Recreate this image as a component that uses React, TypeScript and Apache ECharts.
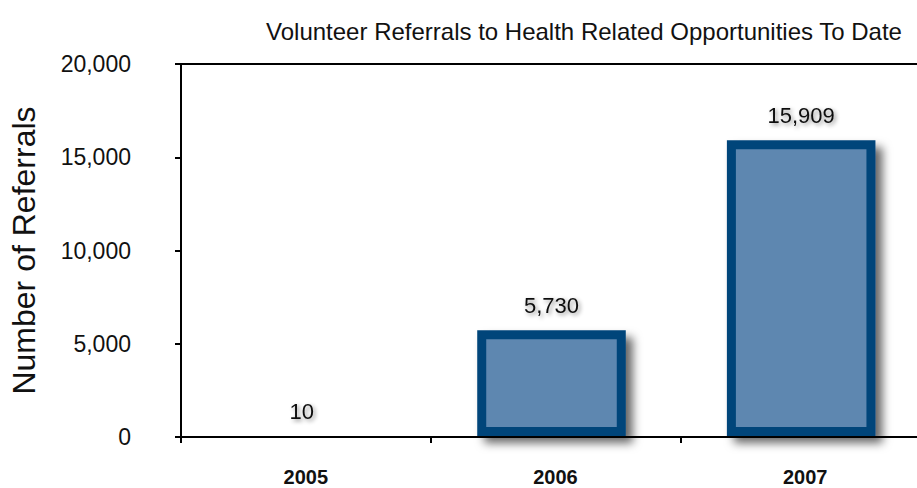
import React, { useEffect, useRef } from "react";
import * as echarts from "echarts";

const categories = ["2005", "2006", "2007"];
const referrals = [10, 5730, 15909];
const yTicks = { min: 0, max: 20000, interval: 5000 };
const titleText = "Volunteer Referrals to Health Related Opportunities To Date";
const yAxisTitle = "Number of Referrals";

const FONT = "Liberation Sans, Arial, sans-serif";
const NARROW = "Liberation Sans Narrow, Arial Narrow, Liberation Sans, sans-serif";

export default function App() {
  const ref = useRef<HTMLDivElement>(null);
  useEffect(() => {
    if (!ref.current) return;
    const chart = echarts.init(ref.current, null, { renderer: "svg" });
    const fmt = (v: number) => v.toLocaleString("en-US");
    const border = 9;
    chart.setOption({
      animation: false,
      backgroundColor: "#ffffff",
      title: {
        text: titleText,
        left: 579,
        top: 14,
        textAlign: "center",
        textStyle: { fontFamily: FONT, fontSize: 24, fontWeight: "normal", color: "#111" },
      },
      grid: { left: 180, top: 64, width: 750, height: 373 },
      xAxis: [
        {
          type: "category",
          data: categories,
          position: "bottom",
          axisLine: { show: true, lineStyle: { color: "#000", width: 2 } },
          axisTick: { show: true, length: 6, lineStyle: { color: "#000", width: 2 } },
          axisLabel: { margin: 30, fontFamily: NARROW, fontWeight: "bold", fontSize: 20, color: "#111" },
          z: 5,
        },
        {
          type: "category",
          data: categories,
          position: "top",
          axisLine: { show: true, lineStyle: { color: "#000", width: 2 } },
          axisTick: { show: false },
          axisLabel: { show: false },
        },
      ],
      yAxis: {
        type: "value",
        min: yTicks.min,
        max: yTicks.max,
        interval: yTicks.interval,
        name: yAxisTitle,
        nameLocation: "middle",
        nameGap: 141,
        nameRotate: 90,
        nameTextStyle: { fontFamily: FONT, fontSize: 32, color: "#111" },
        axisLine: { show: true, lineStyle: { color: "#000", width: 2 } },
        axisTick: { show: true, length: 6, lineStyle: { color: "#000", width: 2 } },
        splitLine: { show: false },
        axisLabel: { margin: 50, formatter: (v: number) => fmt(v), fontFamily: FONT, fontSize: 23, color: "#111" },
      },
      series: [
        {
          type: "custom",
          xAxisIndex: 0,
          data: referrals.map((v, i) => [i, v]),
          z: 3,
          renderItem: (params: any, api: any) => {
            const idx = api.value(0);
            const val = api.value(1);
            const top = api.coord([idx, val]);
            const base = api.coord([idx, 0]);
            const band = api.size([1, 0])[0];
            const w = band * 0.595;
            const cx = top[0] - 4;
            const x = cx - w / 2;
            const h = base[1] - 1 - top[1];
            const children: any[] = [];
            if (h > 2 * border) {
              children.push({
                type: "rect",
                shape: { x, y: top[1], width: w, height: h },
                style: {
                  fill: "#03457A",
                  shadowColor: "rgba(0,0,0,0.6)",
                  shadowBlur: 10,
                  shadowOffsetX: 7,
                  shadowOffsetY: 7,
                },
              });
              children.push({
                type: "rect",
                shape: { x: x + border, y: top[1] + border, width: w - 2 * border, height: h - 2 * border },
                style: { fill: "#5E87B0" },
              });
            }
            children.push({
              type: "text",
              x: cx,
              y: top[1] - 25,
              style: {
                text: fmt(val),
                fontFamily: FONT,
                fontSize: 22,
                fill: "#111",
                align: "center",
                verticalAlign: "middle",
                textShadowColor: "rgba(0,0,0,0.45)",
                textShadowBlur: 4,
                textShadowOffsetX: 2,
                textShadowOffsetY: 2,
              },
            });
            return { type: "group", children };
          },
        },
      ],
    });
    return () => chart.dispose();
  }, []);
  return <div ref={ref} style={{ position: "fixed", left: 0, top: 0, width: 940, height: 488 }} />;
}
